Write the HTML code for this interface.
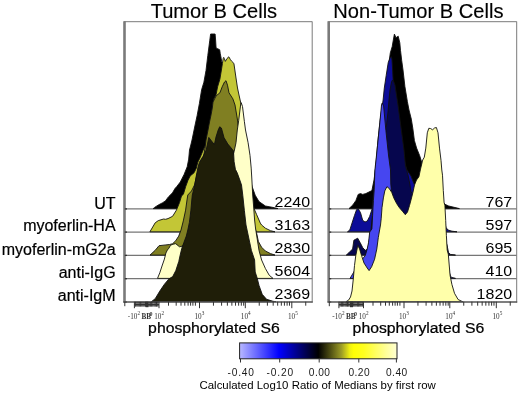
<!DOCTYPE html>
<html><head><meta charset="utf-8"><title>Tumor B Cells</title>
<style>
html,body{margin:0;padding:0;background:#fff;}
body{width:520px;height:394px;overflow:hidden;font-family:"Liberation Sans",sans-serif;}
svg{display:block;will-change:transform;}
</style></head><body>
<svg width="520" height="394" viewBox="0 0 520 394" font-family="Liberation Sans, sans-serif">
<rect width="520" height="394" fill="#fff"/>
<text x="213.9" y="17.5" text-anchor="middle" font-size="20.1" fill="#000" stroke="#000" stroke-width="0.15">Tumor B Cells</text>
<text x="418.4" y="17.5" text-anchor="middle" font-size="20.1" fill="#000" stroke="#000" stroke-width="0.15">Non-Tumor B Cells</text>
<line x1="124" y1="208.90" x2="312.2" y2="208.90" stroke="#767676" stroke-width="1.3"/>
<line x1="124" y1="232.10" x2="312.2" y2="232.10" stroke="#767676" stroke-width="1.3"/>
<line x1="124" y1="255.40" x2="312.2" y2="255.40" stroke="#767676" stroke-width="1.3"/>
<line x1="124" y1="278.70" x2="312.2" y2="278.70" stroke="#767676" stroke-width="1.3"/>
<path d="M153.2,208.6 L154.6,207.4 L158.3,205.0 L162.3,202.9 L165.4,200.9 L168.4,196.9 L172.5,192.8 L175.0,188.5 L176.8,186.5 L180.3,182.0 L184.1,174.4 L187.2,166.8 L188.7,159.1 L189.5,150.0 L190.8,145.0 L192.0,140.0 L195.1,125.0 L197.1,115.7 L199.4,103.5 L201.6,89.8 L203.9,82.2 L206.0,70.5 L207.8,55.5 L209.8,40.2 L210.6,34.0 L215.1,34.0 L215.6,40.0 L216.1,48.0 L217.7,48.7 L219.7,49.8 L220.2,53.3 L221.2,58.4 L221.7,61.4 L222.7,63.4 L226.0,75.0 L232.0,95.0 L238.0,120.0 L244.0,150.0 L249.0,175.0 L252.0,186.3 L255.2,195.2 L259.0,201.6 L265.4,206.0 L274.3,207.7 L278.0,208.6 Z" fill="#000000" stroke="#111" stroke-width="0.9" stroke-linejoin="round"/>
<path d="M149.9,231.8 L155.2,222.8 L158.3,220.6 L163.6,219.0 L165.5,219.3 L168.0,218.6 L172.6,216.3 L176.4,210.2 L179.5,202.6 L181.5,196.0 L183.4,194.2 L185.7,186.5 L187.9,180.5 L190.2,175.9 L194.0,172.8 L196.3,168.3 L197.8,162.2 L200.1,157.6 L203.2,150.0 L206.0,144.0 L207.6,140.0 L210.0,125.0 L212.0,110.0 L213.8,98.9 L216.1,94.4 L217.6,86.8 L219.9,79.1 L221.4,70.0 L222.4,63.6 L223.2,58.5 L223.7,57.4 L224.3,58.5 L225.3,61.4 L227.0,58.5 L228.8,56.8 L230.3,59.4 L231.8,61.4 L233.9,63.4 L236.0,78.0 L237.5,88.0 L239.0,95.0 L241.0,104.0 L243.5,125.0 L246.0,150.0 L249.0,175.0 L251.0,195.0 L253.0,205.0 L254.0,208.5 L256.5,214.3 L260.3,223.1 L261.6,225.0 L265.4,228.2 L270.5,230.7 L275.0,231.8 Z" fill="#c3c636" stroke="#111" stroke-width="0.9" stroke-linejoin="round"/>
<path d="M150.0,255.1 L155.2,250.3 L159.0,245.7 L165.9,244.9 L169.6,244.5 L172.6,243.7 L175.7,240.7 L178.7,236.1 L181.0,230.0 L183.3,220.9 L185.6,210.2 L187.0,200.0 L187.8,195.0 L191.5,191.0 L194.5,185.0 L196.8,175.0 L199.8,165.0 L203.5,157.0 L205.0,148.0 L206.0,140.0 L208.0,130.0 L209.5,122.0 L211.0,115.0 L212.3,108.0 L213.0,102.0 L214.6,98.9 L216.1,95.9 L219.9,92.8 L222.2,86.8 L224.5,82.0 L226.0,80.7 L227.5,85.2 L229.0,92.8 L232.9,98.9 L235.0,105.0 L237.5,120.0 L240.0,140.0 L243.0,170.0 L247.0,200.0 L252.0,220.0 L256.5,232.6 L258.4,241.5 L261.6,247.2 L265.4,251.0 L270.5,253.6 L275.0,255.1 Z" fill="#807f22" stroke="#111" stroke-width="0.9" stroke-linejoin="round"/>
<path d="M157.5,278.4 L159.8,272.8 L162.0,266.0 L164.4,259.1 L165.9,253.0 L167.4,250.0 L168.9,248.2 L170.5,245.3 L173.0,244.2 L175.7,243.7 L179.5,246.8 L183.0,246.0 L190.0,232.0 L200.0,220.0 L215.0,195.0 L228.0,170.0 L234.1,151.6 L236.0,142.7 L237.3,130.0 L238.7,120.5 L240.6,105.0 L241.2,102.7 L242.5,106.5 L244.4,121.7 L245.5,130.0 L248.1,142.7 L250.0,155.4 L251.2,168.1 L251.9,180.0 L252.7,195.0 L253.5,205.0 L254.6,220.0 L255.5,228.0 L259.0,250.4 L261.6,260.0 L265.4,268.5 L269.2,275.2 L273.0,278.4 Z" fill="#ffffc8" stroke="#111" stroke-width="0.9" stroke-linejoin="round"/>
<path d="M151.4,301.7 L155.2,298.7 L159.8,291.1 L164.4,284.3 L168.9,278.9 L172.7,276.6 L175.8,270.6 L178.8,261.4 L180.2,255.0 L181.8,248.3 L184.0,242.2 L186.3,236.1 L187.8,230.0 L189.4,222.4 L190.9,210.2 L191.8,200.0 L192.3,195.0 L193.3,191.1 L194.8,185.0 L196.3,175.9 L198.0,167.0 L199.4,162.2 L203.2,156.1 L206.2,150.0 L207.5,144.0 L208.8,137.4 L211.5,141.0 L214.4,144.6 L216.0,137.0 L218.2,130.0 L219.7,126.8 L221.4,128.0 L224.0,137.6 L227.8,144.0 L231.0,147.8 L233.5,151.0 L234.1,161.7 L235.4,169.3 L237.3,173.1 L239.8,180.0 L241.5,185.0 L242.8,195.5 L244.4,210.7 L246.0,225.0 L251.4,250.4 L254.6,260.0 L255.2,272.0 L257.1,277.8 L259.0,285.4 L262.2,294.3 L266.6,299.3 L273.0,301.3 L276.0,301.7 Z" fill="#1f1e08" stroke="#111" stroke-width="0.9" stroke-linejoin="round"/>
<line x1="328.5" y1="208.90" x2="516.7" y2="208.90" stroke="#767676" stroke-width="1.3"/>
<line x1="328.5" y1="232.10" x2="516.7" y2="232.10" stroke="#767676" stroke-width="1.3"/>
<line x1="328.5" y1="255.40" x2="516.7" y2="255.40" stroke="#767676" stroke-width="1.3"/>
<line x1="328.5" y1="278.70" x2="516.7" y2="278.70" stroke="#767676" stroke-width="1.3"/>
<path d="M349.0,208.6 L352.8,205.0 L355.9,200.5 L358.2,194.4 L360.5,193.6 L362.7,194.4 L365.8,193.6 L368.8,192.1 L371.9,190.6 L374.0,180.0 L378.0,150.0 L382.0,120.0 L385.0,95.0 L388.0,70.0 L390.3,52.9 L392.2,46.6 L393.5,39.0 L394.4,34.1 L396.0,37.7 L398.2,36.2 L399.8,42.8 L400.5,50.4 L401.7,60.5 L403.0,70.0 L404.9,86.5 L407.4,101.7 L409.0,110.0 L411.3,119.1 L412.8,128.3 L414.4,140.5 L416.6,148.1 L419.7,155.7 L422.0,163.3 L430.0,180.0 L440.0,197.0 L444.8,204.2 L448.7,206.0 L459.4,208.6 Z" fill="#000000" stroke="#111" stroke-width="0.9" stroke-linejoin="round"/>
<path d="M347.5,231.8 L349.8,230.0 L354.4,215.7 L356.6,209.6 L358.2,208.8 L360.5,212.6 L362.7,220.3 L365.0,222.0 L367.3,221.0 L369.6,216.5 L371.9,209.6 L373.0,200.0 L375.0,175.0 L378.0,140.0 L380.2,120.0 L383.1,100.0 L384.3,88.1 L386.2,75.4 L388.2,62.7 L390.2,57.5 L391.5,56.8 L392.0,60.0 L392.6,69.0 L393.2,81.7 L394.0,100.0 L397.0,120.0 L400.0,140.0 L404.0,160.0 L407.0,170.0 L411.0,176.0 L414.5,185.0 L415.5,195.0 L420.0,203.0 L435.0,215.0 L445.0,224.0 L446.0,227.5 L448.0,230.0 L452.0,231.2 L457.0,231.8 Z" fill="#0c0c98" stroke="#111" stroke-width="0.9" stroke-linejoin="round"/>
<path d="M346.3,255.1 L348.8,252.8 L352.6,249.0 L353.9,240.2 L357.7,238.2 L360.2,242.7 L362.8,247.8 L365.3,250.3 L367.8,249.0 L371.0,230.0 L375.0,190.0 L380.0,150.0 L384.5,130.0 L386.5,125.0 L388.0,112.0 L389.0,100.0 L390.0,90.0 L391.5,82.0 L392.5,80.0 L393.5,81.0 L395.0,85.0 L396.5,95.0 L398.0,105.0 L400.0,120.0 L402.0,135.0 L404.0,150.0 L405.5,166.0 L408.0,175.0 L410.0,185.0 L411.0,192.0 L425.0,205.0 L440.0,225.0 L447.0,245.0 L448.5,252.5 L450.5,254.4 L455.5,255.1 Z" fill="#06064e" stroke="#111" stroke-width="0.9" stroke-linejoin="round"/>
<path d="M350.0,278.4 L358.0,265.0 L365.3,255.4 L367.2,249.0 L368.5,242.7 L369.7,232.0 L371.9,229.0 L372.6,215.7 L373.4,200.5 L374.2,189.8 L374.9,170.0 L376.0,160.0 L377.5,145.7 L379.8,122.8 L381.5,105.0 L382.2,103.0 L383.6,106.0 L385.9,130.5 L388.5,155.0 L390.5,170.0 L390.8,184.0 L391.5,192.0 L396.0,205.0 L403.0,216.0 L410.0,225.0 L430.0,245.0 L447.0,262.0 L449.5,273.0 L451.0,277.2 L455.5,278.4 Z" fill="#4646f0" stroke="#111" stroke-width="0.9" stroke-linejoin="round"/>
<path d="M346.0,301.7 L348.5,300.2 L350.5,297.0 L352.0,291.0 L353.2,280.0 L354.5,265.5 L355.8,255.4 L357.1,249.0 L357.7,245.2 L359.6,249.0 L361.5,255.4 L364.0,263.0 L367.2,268.0 L369.1,270.6 L371.6,266.8 L374.6,259.2 L376.8,249.0 L378.3,237.6 L379.6,230.0 L380.5,225.0 L381.2,218.8 L382.0,207.7 L383.4,197.9 L384.8,190.9 L386.9,186.7 L388.9,188.1 L391.7,192.3 L393.8,197.9 L396.6,203.5 L399.4,207.7 L402.9,211.8 L405.3,214.7 L407.5,212.0 L409.5,205.5 L411.5,198.0 L413.0,192.0 L414.5,185.0 L416.5,180.0 L418.9,176.8 L420.5,169.1 L422.7,160.0 L424.3,157.2 L425.8,148.1 L427.3,132.8 L428.8,128.3 L430.5,128.5 L432.6,129.8 L434.5,128.0 L436.4,127.5 L438.0,132.8 L439.5,148.1 L441.0,160.3 L441.8,170.0 L442.5,175.2 L443.3,190.5 L444.1,202.6 L444.9,205.2 L445.7,220.5 L446.4,235.7 L447.2,250.0 L448.3,254.2 L450.1,275.5 L451.9,284.4 L454.5,293.3 L458.1,299.5 L461.6,301.2 L463.0,301.7 Z" fill="#ffffaa" stroke="#111" stroke-width="0.9" stroke-linejoin="round"/>
<line x1="124.5" y1="21.2" x2="124.5" y2="302.5" stroke="#7a7a7a" stroke-width="2.6"/>
<line x1="124.8" y1="208.90" x2="127.0" y2="208.90" stroke="#333" stroke-width="1.3"/>
<line x1="124.8" y1="232.10" x2="127.0" y2="232.10" stroke="#333" stroke-width="1.3"/>
<line x1="124.8" y1="255.40" x2="127.0" y2="255.40" stroke="#333" stroke-width="1.3"/>
<line x1="124.8" y1="278.70" x2="127.0" y2="278.70" stroke="#333" stroke-width="1.3"/>
<line x1="124.8" y1="302.00" x2="127.0" y2="302.00" stroke="#333" stroke-width="1.3"/>
<line x1="124" y1="21.7" x2="312.2" y2="21.7" stroke="#7a7a7a" stroke-width="1"/>
<line x1="312.2" y1="21.5" x2="312.2" y2="302.5" stroke="#7a7a7a" stroke-width="1"/>
<line x1="123.2" y1="302" x2="312.7" y2="302" stroke="#555" stroke-width="1.6"/>
<line x1="328.7" y1="21.2" x2="328.7" y2="302.5" stroke="#7a7a7a" stroke-width="2.6"/>
<line x1="329.0" y1="208.90" x2="331.2" y2="208.90" stroke="#333" stroke-width="1.3"/>
<line x1="329.0" y1="232.10" x2="331.2" y2="232.10" stroke="#333" stroke-width="1.3"/>
<line x1="329.0" y1="255.40" x2="331.2" y2="255.40" stroke="#333" stroke-width="1.3"/>
<line x1="329.0" y1="278.70" x2="331.2" y2="278.70" stroke="#333" stroke-width="1.3"/>
<line x1="329.0" y1="302.00" x2="331.2" y2="302.00" stroke="#333" stroke-width="1.3"/>
<line x1="328.2" y1="21.7" x2="516.7" y2="21.7" stroke="#7a7a7a" stroke-width="1"/>
<line x1="516.7" y1="21.5" x2="516.7" y2="302.5" stroke="#7a7a7a" stroke-width="1"/>
<line x1="327.5" y1="302" x2="517.2" y2="302" stroke="#555" stroke-width="1.6"/>
<line x1="134.4" y1="301.7" x2="134.4" y2="308.2" stroke="#333" stroke-width="1"/>
<line x1="159.0" y1="301.7" x2="159.0" y2="308.2" stroke="#333" stroke-width="1"/>
<line x1="199.5" y1="301.7" x2="199.5" y2="308.2" stroke="#333" stroke-width="1"/>
<line x1="245.3" y1="301.7" x2="245.3" y2="308.2" stroke="#333" stroke-width="1"/>
<line x1="291.8" y1="301.7" x2="291.8" y2="308.2" stroke="#333" stroke-width="1"/>
<line x1="168.5" y1="301.7" x2="168.5" y2="305.7" stroke="#333" stroke-width="1"/>
<line x1="176.2" y1="301.7" x2="176.2" y2="305.7" stroke="#333" stroke-width="1"/>
<line x1="181" y1="301.7" x2="181" y2="305.7" stroke="#333" stroke-width="1"/>
<line x1="184.8" y1="301.7" x2="184.8" y2="305.7" stroke="#333" stroke-width="1"/>
<line x1="188.1" y1="301.7" x2="188.1" y2="305.7" stroke="#333" stroke-width="1"/>
<line x1="190.6" y1="301.7" x2="190.6" y2="305.7" stroke="#333" stroke-width="1"/>
<line x1="192.9" y1="301.7" x2="192.9" y2="305.7" stroke="#333" stroke-width="1"/>
<line x1="195.4" y1="301.7" x2="195.4" y2="305.7" stroke="#333" stroke-width="1"/>
<line x1="213.43768879924232" y1="301.7" x2="213.43768879924232" y2="305.7" stroke="#333" stroke-width="1"/>
<line x1="221.59071409352038" y1="301.7" x2="221.59071409352038" y2="305.7" stroke="#333" stroke-width="1"/>
<line x1="227.37537759848465" y1="301.7" x2="227.37537759848465" y2="305.7" stroke="#333" stroke-width="1"/>
<line x1="231.8623112007577" y1="301.7" x2="231.8623112007577" y2="305.7" stroke="#333" stroke-width="1"/>
<line x1="235.5284028927627" y1="301.7" x2="235.5284028927627" y2="305.7" stroke="#333" stroke-width="1"/>
<line x1="238.62803925266007" y1="301.7" x2="238.62803925266007" y2="305.7" stroke="#333" stroke-width="1"/>
<line x1="241.31306639772697" y1="301.7" x2="241.31306639772697" y2="305.7" stroke="#333" stroke-width="1"/>
<line x1="243.68142818704075" y1="301.7" x2="243.68142818704075" y2="305.7" stroke="#333" stroke-width="1"/>
<line x1="259.23768879924233" y1="301.7" x2="259.23768879924233" y2="305.7" stroke="#333" stroke-width="1"/>
<line x1="267.3907140935204" y1="301.7" x2="267.3907140935204" y2="305.7" stroke="#333" stroke-width="1"/>
<line x1="273.17537759848466" y1="301.7" x2="273.17537759848466" y2="305.7" stroke="#333" stroke-width="1"/>
<line x1="277.6623112007577" y1="301.7" x2="277.6623112007577" y2="305.7" stroke="#333" stroke-width="1"/>
<line x1="281.3284028927627" y1="301.7" x2="281.3284028927627" y2="305.7" stroke="#333" stroke-width="1"/>
<line x1="284.4280392526601" y1="301.7" x2="284.4280392526601" y2="305.7" stroke="#333" stroke-width="1"/>
<line x1="287.113066397727" y1="301.7" x2="287.113066397727" y2="305.7" stroke="#333" stroke-width="1"/>
<line x1="289.48142818704076" y1="301.7" x2="289.48142818704076" y2="305.7" stroke="#333" stroke-width="1"/>
<line x1="305.73768879924233" y1="301.7" x2="305.73768879924233" y2="305.7" stroke="#333" stroke-width="1"/>
<line x1="124.8" y1="301.7" x2="124.8" y2="306.2" stroke="#333" stroke-width="1"/>
<line x1="135.6" y1="301.7" x2="135.6" y2="306.7" stroke="#222" stroke-width="0.9"/>
<line x1="136.9" y1="301.7" x2="136.9" y2="306.7" stroke="#222" stroke-width="0.9"/>
<line x1="138.1" y1="301.7" x2="138.1" y2="306.7" stroke="#222" stroke-width="0.9"/>
<line x1="139.3" y1="301.7" x2="139.3" y2="306.7" stroke="#222" stroke-width="0.9"/>
<line x1="140.6" y1="301.7" x2="140.6" y2="306.7" stroke="#222" stroke-width="0.9"/>
<line x1="141.8" y1="301.7" x2="141.8" y2="306.7" stroke="#222" stroke-width="0.9"/>
<line x1="143.0" y1="301.7" x2="143.0" y2="306.7" stroke="#222" stroke-width="0.9"/>
<line x1="144.2" y1="301.7" x2="144.2" y2="306.7" stroke="#222" stroke-width="0.9"/>
<line x1="145.5" y1="301.7" x2="145.5" y2="306.7" stroke="#222" stroke-width="0.9"/>
<line x1="146.7" y1="301.7" x2="146.7" y2="306.7" stroke="#222" stroke-width="0.9"/>
<line x1="147.9" y1="301.7" x2="147.9" y2="306.7" stroke="#222" stroke-width="0.9"/>
<line x1="149.2" y1="301.7" x2="149.2" y2="306.7" stroke="#222" stroke-width="0.9"/>
<line x1="150.4" y1="301.7" x2="150.4" y2="306.7" stroke="#222" stroke-width="0.9"/>
<line x1="151.6" y1="301.7" x2="151.6" y2="306.7" stroke="#222" stroke-width="0.9"/>
<line x1="152.8" y1="301.7" x2="152.8" y2="306.7" stroke="#222" stroke-width="0.9"/>
<line x1="154.1" y1="301.7" x2="154.1" y2="306.7" stroke="#222" stroke-width="0.9"/>
<line x1="155.3" y1="301.7" x2="155.3" y2="306.7" stroke="#222" stroke-width="0.9"/>
<line x1="156.5" y1="301.7" x2="156.5" y2="306.7" stroke="#222" stroke-width="0.9"/>
<line x1="157.8" y1="301.7" x2="157.8" y2="306.7" stroke="#222" stroke-width="0.9"/>
<rect x="134.4" y="303.9" width="24.599999999999994" height="1.5" fill="#333"/>
<rect x="145.5" y="301.7" width="3" height="5.5" fill="#333"/>
<line x1="338.9" y1="301.7" x2="338.9" y2="308.2" stroke="#333" stroke-width="1"/>
<line x1="363.5" y1="301.7" x2="363.5" y2="308.2" stroke="#333" stroke-width="1"/>
<line x1="404.0" y1="301.7" x2="404.0" y2="308.2" stroke="#333" stroke-width="1"/>
<line x1="449.8" y1="301.7" x2="449.8" y2="308.2" stroke="#333" stroke-width="1"/>
<line x1="496.3" y1="301.7" x2="496.3" y2="308.2" stroke="#333" stroke-width="1"/>
<line x1="373.0" y1="301.7" x2="373.0" y2="305.7" stroke="#333" stroke-width="1"/>
<line x1="380.7" y1="301.7" x2="380.7" y2="305.7" stroke="#333" stroke-width="1"/>
<line x1="385.5" y1="301.7" x2="385.5" y2="305.7" stroke="#333" stroke-width="1"/>
<line x1="389.3" y1="301.7" x2="389.3" y2="305.7" stroke="#333" stroke-width="1"/>
<line x1="392.6" y1="301.7" x2="392.6" y2="305.7" stroke="#333" stroke-width="1"/>
<line x1="395.1" y1="301.7" x2="395.1" y2="305.7" stroke="#333" stroke-width="1"/>
<line x1="397.4" y1="301.7" x2="397.4" y2="305.7" stroke="#333" stroke-width="1"/>
<line x1="399.9" y1="301.7" x2="399.9" y2="305.7" stroke="#333" stroke-width="1"/>
<line x1="417.9376887992423" y1="301.7" x2="417.9376887992423" y2="305.7" stroke="#333" stroke-width="1"/>
<line x1="426.0907140935204" y1="301.7" x2="426.0907140935204" y2="305.7" stroke="#333" stroke-width="1"/>
<line x1="431.87537759848465" y1="301.7" x2="431.87537759848465" y2="305.7" stroke="#333" stroke-width="1"/>
<line x1="436.3623112007577" y1="301.7" x2="436.3623112007577" y2="305.7" stroke="#333" stroke-width="1"/>
<line x1="440.0284028927627" y1="301.7" x2="440.0284028927627" y2="305.7" stroke="#333" stroke-width="1"/>
<line x1="443.1280392526601" y1="301.7" x2="443.1280392526601" y2="305.7" stroke="#333" stroke-width="1"/>
<line x1="445.81306639772697" y1="301.7" x2="445.81306639772697" y2="305.7" stroke="#333" stroke-width="1"/>
<line x1="448.18142818704075" y1="301.7" x2="448.18142818704075" y2="305.7" stroke="#333" stroke-width="1"/>
<line x1="463.73768879924233" y1="301.7" x2="463.73768879924233" y2="305.7" stroke="#333" stroke-width="1"/>
<line x1="471.8907140935204" y1="301.7" x2="471.8907140935204" y2="305.7" stroke="#333" stroke-width="1"/>
<line x1="477.67537759848466" y1="301.7" x2="477.67537759848466" y2="305.7" stroke="#333" stroke-width="1"/>
<line x1="482.1623112007577" y1="301.7" x2="482.1623112007577" y2="305.7" stroke="#333" stroke-width="1"/>
<line x1="485.8284028927627" y1="301.7" x2="485.8284028927627" y2="305.7" stroke="#333" stroke-width="1"/>
<line x1="488.9280392526601" y1="301.7" x2="488.9280392526601" y2="305.7" stroke="#333" stroke-width="1"/>
<line x1="491.613066397727" y1="301.7" x2="491.613066397727" y2="305.7" stroke="#333" stroke-width="1"/>
<line x1="493.98142818704076" y1="301.7" x2="493.98142818704076" y2="305.7" stroke="#333" stroke-width="1"/>
<line x1="510.23768879924233" y1="301.7" x2="510.23768879924233" y2="305.7" stroke="#333" stroke-width="1"/>
<line x1="329.3" y1="301.7" x2="329.3" y2="306.2" stroke="#333" stroke-width="1"/>
<line x1="340.1" y1="301.7" x2="340.1" y2="306.7" stroke="#222" stroke-width="0.9"/>
<line x1="341.4" y1="301.7" x2="341.4" y2="306.7" stroke="#222" stroke-width="0.9"/>
<line x1="342.6" y1="301.7" x2="342.6" y2="306.7" stroke="#222" stroke-width="0.9"/>
<line x1="343.8" y1="301.7" x2="343.8" y2="306.7" stroke="#222" stroke-width="0.9"/>
<line x1="345.1" y1="301.7" x2="345.1" y2="306.7" stroke="#222" stroke-width="0.9"/>
<line x1="346.3" y1="301.7" x2="346.3" y2="306.7" stroke="#222" stroke-width="0.9"/>
<line x1="347.5" y1="301.7" x2="347.5" y2="306.7" stroke="#222" stroke-width="0.9"/>
<line x1="348.7" y1="301.7" x2="348.7" y2="306.7" stroke="#222" stroke-width="0.9"/>
<line x1="350.0" y1="301.7" x2="350.0" y2="306.7" stroke="#222" stroke-width="0.9"/>
<line x1="351.2" y1="301.7" x2="351.2" y2="306.7" stroke="#222" stroke-width="0.9"/>
<line x1="352.4" y1="301.7" x2="352.4" y2="306.7" stroke="#222" stroke-width="0.9"/>
<line x1="353.7" y1="301.7" x2="353.7" y2="306.7" stroke="#222" stroke-width="0.9"/>
<line x1="354.9" y1="301.7" x2="354.9" y2="306.7" stroke="#222" stroke-width="0.9"/>
<line x1="356.1" y1="301.7" x2="356.1" y2="306.7" stroke="#222" stroke-width="0.9"/>
<line x1="357.4" y1="301.7" x2="357.4" y2="306.7" stroke="#222" stroke-width="0.9"/>
<line x1="358.6" y1="301.7" x2="358.6" y2="306.7" stroke="#222" stroke-width="0.9"/>
<line x1="359.8" y1="301.7" x2="359.8" y2="306.7" stroke="#222" stroke-width="0.9"/>
<line x1="361.0" y1="301.7" x2="361.0" y2="306.7" stroke="#222" stroke-width="0.9"/>
<line x1="362.3" y1="301.7" x2="362.3" y2="306.7" stroke="#222" stroke-width="0.9"/>
<rect x="338.9" y="303.9" width="24.599999999999994" height="1.5" fill="#333"/>
<rect x="350.0" y="301.7" width="3" height="5.5" fill="#333"/>
<text x="127.8" y="318.5" font-size="7.2" font-family="Liberation Serif, serif" fill="#333">-10<tspan dy="-3.6" font-size="5.2">2</tspan></text>
<text x="154.2" y="318.5" font-size="7.2" font-family="Liberation Serif, serif" fill="#333">10<tspan dy="-3.6" font-size="5.2">2</tspan></text>
<text x="194.5" y="318.5" font-size="7.2" font-family="Liberation Serif, serif" fill="#333">10<tspan dy="-3.6" font-size="5.2">3</tspan></text>
<text x="240.8" y="318.5" font-size="7.2" font-family="Liberation Serif, serif" fill="#333">10<tspan dy="-3.6" font-size="5.2">4</tspan></text>
<text x="288.0" y="318.5" font-size="7.2" font-family="Liberation Serif, serif" fill="#333">10<tspan dy="-3.6" font-size="5.2">5</tspan></text>
<text x="141.5" y="318.5" font-size="7.2" font-weight="bold" font-family="Liberation Serif, serif" fill="#333">BB</text>
<text x="149.5" y="315.5" font-size="6" font-weight="bold" font-family="Liberation Serif, serif" fill="#333">0</text>
<text x="332.3" y="318.5" font-size="7.2" font-family="Liberation Serif, serif" fill="#333">-10<tspan dy="-3.6" font-size="5.2">2</tspan></text>
<text x="358.7" y="318.5" font-size="7.2" font-family="Liberation Serif, serif" fill="#333">10<tspan dy="-3.6" font-size="5.2">2</tspan></text>
<text x="399.0" y="318.5" font-size="7.2" font-family="Liberation Serif, serif" fill="#333">10<tspan dy="-3.6" font-size="5.2">3</tspan></text>
<text x="445.3" y="318.5" font-size="7.2" font-family="Liberation Serif, serif" fill="#333">10<tspan dy="-3.6" font-size="5.2">4</tspan></text>
<text x="492.5" y="318.5" font-size="7.2" font-family="Liberation Serif, serif" fill="#333">10<tspan dy="-3.6" font-size="5.2">5</tspan></text>
<text x="346.0" y="318.5" font-size="7.2" font-weight="bold" font-family="Liberation Serif, serif" fill="#333">BB</text>
<text x="354.0" y="315.5" font-size="6" font-weight="bold" font-family="Liberation Serif, serif" fill="#333">0</text>
<text transform="translate(310.1,207.2) scale(1,0.94)" x="0" y="0" text-anchor="end" font-size="16" fill="#000">2240</text>
<text transform="translate(310.1,229.9) scale(1,0.94)" x="0" y="0" text-anchor="end" font-size="16" fill="#000">3163</text>
<text transform="translate(310.1,252.9) scale(1,0.94)" x="0" y="0" text-anchor="end" font-size="16" fill="#000">2830</text>
<text transform="translate(310.1,275.8) scale(1,0.94)" x="0" y="0" text-anchor="end" font-size="16" fill="#000">5604</text>
<text transform="translate(310.1,298.9) scale(1,0.94)" x="0" y="0" text-anchor="end" font-size="16" fill="#000">2369</text>
<text transform="translate(512.2,207.2) scale(1,0.94)" x="0" y="0" text-anchor="end" font-size="16" fill="#000">767</text>
<text transform="translate(512.2,229.9) scale(1,0.94)" x="0" y="0" text-anchor="end" font-size="16" fill="#000">597</text>
<text transform="translate(512.2,252.9) scale(1,0.94)" x="0" y="0" text-anchor="end" font-size="16" fill="#000">695</text>
<text transform="translate(512.2,275.8) scale(1,0.94)" x="0" y="0" text-anchor="end" font-size="16" fill="#000">410</text>
<text transform="translate(512.2,298.9) scale(1,0.94)" x="0" y="0" text-anchor="end" font-size="16" fill="#000">1820</text>
<text x="115.6" y="209.0" text-anchor="end" font-size="16" fill="#000" stroke="#000" stroke-width="0.2">UT</text>
<text x="115.6" y="231.2" text-anchor="end" font-size="16" fill="#000" stroke="#000" stroke-width="0.2">myoferlin-HA</text>
<text x="115.6" y="254.5" text-anchor="end" font-size="16" fill="#000" stroke="#000" stroke-width="0.2">myoferlin-mG2a</text>
<text x="115.6" y="277.8" text-anchor="end" font-size="16" fill="#000" stroke="#000" stroke-width="0.2">anti-IgG</text>
<text x="115.6" y="301.1" text-anchor="end" font-size="16" fill="#000" stroke="#000" stroke-width="0.2">anti-IgM</text>
<text transform="translate(148.1,332.8) scale(1,0.92)" x="0" y="0" font-size="16.1" fill="#000" stroke="#000" stroke-width="0.25" textLength="131.6" lengthAdjust="spacingAndGlyphs">phosphorylated S6</text>
<text transform="translate(352.6,332.8) scale(1,0.92)" x="0" y="0" font-size="16.1" fill="#000" stroke="#000" stroke-width="0.25" textLength="131.6" lengthAdjust="spacingAndGlyphs">phosphorylated S6</text>
<defs><linearGradient id="cb" x1="0" x2="1" y1="0" y2="0"><stop offset="0" stop-color="#b8b8ff"/><stop offset="0.25" stop-color="#0000ff"/><stop offset="0.5" stop-color="#000000"/><stop offset="0.574" stop-color="#4c4c12"/><stop offset="0.647" stop-color="#9c9c26"/><stop offset="0.70" stop-color="#f0f012"/><stop offset="0.725" stop-color="#ffff06"/><stop offset="0.79" stop-color="#ffff20"/><stop offset="1" stop-color="#ffffd4"/></linearGradient></defs>
<rect x="239.6" y="342.9" width="157.4" height="15.9" fill="url(#cb)" stroke="#222" stroke-width="1"/>
<line x1="240.5" y1="358.7" x2="240.5" y2="362.5" stroke="#333" stroke-width="1"/>
<text x="227.4" y="375.6" font-size="10.2" fill="#1a1a1a" textLength="26.6" lengthAdjust="spacing">-0.40</text>
<line x1="279.7" y1="358.7" x2="279.7" y2="362.5" stroke="#333" stroke-width="1"/>
<text x="266.6" y="375.6" font-size="10.2" fill="#1a1a1a" textLength="26.6" lengthAdjust="spacing">-0.20</text>
<line x1="319.2" y1="358.7" x2="319.2" y2="362.5" stroke="#333" stroke-width="1"/>
<text x="308.8" y="375.6" font-size="10.2" fill="#1a1a1a" textLength="21.2" lengthAdjust="spacing">0.00</text>
<line x1="358.8" y1="358.7" x2="358.8" y2="362.5" stroke="#333" stroke-width="1"/>
<text x="348.4" y="375.6" font-size="10.2" fill="#1a1a1a" textLength="21.2" lengthAdjust="spacing">0.20</text>
<line x1="396.4" y1="358.7" x2="396.4" y2="362.5" stroke="#333" stroke-width="1"/>
<text x="386.0" y="375.6" font-size="10.2" fill="#1a1a1a" textLength="21.2" lengthAdjust="spacing">0.40</text>
<text x="199.5" y="388.6" font-size="11" fill="#000" textLength="236.3" lengthAdjust="spacingAndGlyphs">Calculated Log10 Ratio of Medians by first row</text>
</svg>
</body></html>
